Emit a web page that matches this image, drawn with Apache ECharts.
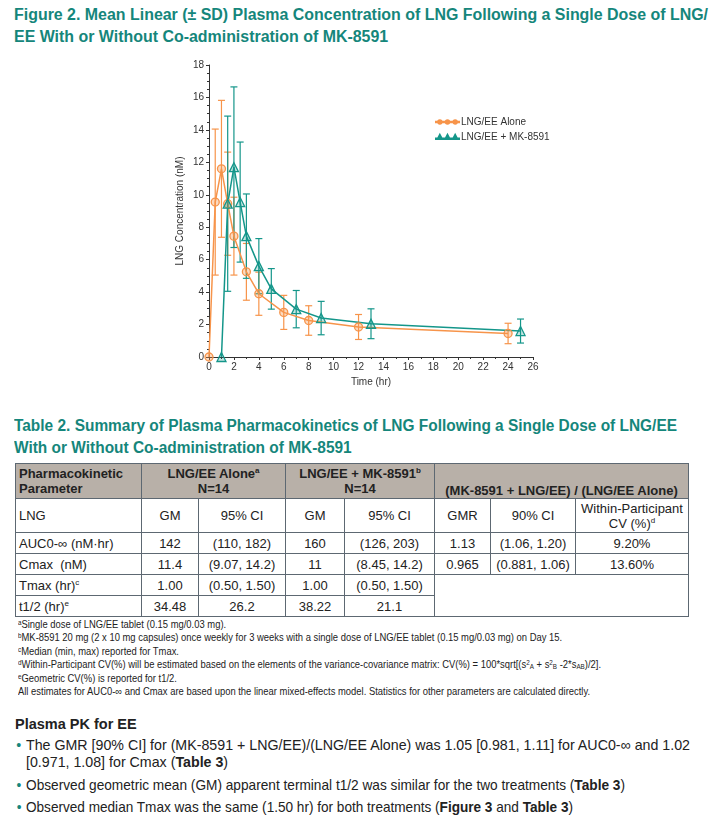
<!DOCTYPE html>
<html>
<head>
<meta charset="utf-8">
<script src="https://cdn.jsdelivr.net/npm/echarts@6/dist/echarts.min.js"></script>
<style>
  html, body { margin: 0; padding: 0; background: #fff; }
  body { width: 718px; height: 838px; position: relative; overflow: hidden;
         font-family: 'Liberation Sans', Arial, sans-serif; color: #222; }
  .ttl { position: absolute; left: 14px; color: #15867b; font-weight: bold; font-size: 16px;
         line-height: 22px; white-space: nowrap; }
  #chart { position: absolute; left: 0; top: 55px; width: 718px; height: 340px; }
  table { position: absolute; left: 15px; top: 463px; border-collapse: collapse; table-layout: fixed;
          font-size: 13px; }
  td { border: 1.5px solid #5d6872; padding: 0 3px; text-align: center; white-space: nowrap; line-height: 15px; }
  tr.hd td { background: #b8b0a8; font-weight: bold; }
  td.l { text-align: left; }
  sup { font-size: 8px; vertical-align: 5px; line-height: 0; }
  .fn { position: absolute; left: 18px; top: 618px; font-size: 10.5px; color: #222; white-space: nowrap; }
  .fn div { height: 13.4px; line-height: 13.4px; }
  .fn sup, .fn sub { font-size: 7px; line-height: 0; }
  .fn sup { vertical-align: 3px; }
  .fn sub { vertical-align: -1px; }
  .sec { position: absolute; left: 15px; top: 716px; font-weight: bold; font-size: 14.5px; }
  .bl { position: absolute; left: 26px; font-size: 14.5px; line-height: 17px; white-space: nowrap; }
  .bl::before { content: '\2022'; color: #15867b; position: absolute; left: -10px; }
</style>
</head>
<body>
<div class="ttl" id="t1" style="top:4px">Figure 2. Mean Linear (± SD) Plasma Concentration of LNG Following a Single Dose of LNG/<br>EE With or Without Co-administration of MK-8591</div>
<div id="chart"></div>
<div class="ttl" id="t2" style="top:415px">Table 2. Summary of Plasma Pharmacokinetics of LNG Following a Single Dose of LNG/EE<br>With or Without Co-administration of MK-8591</div>
<table>
  <colgroup>
    <col style="width:126px"><col style="width:57px"><col style="width:87px"><col style="width:59px">
    <col style="width:90px"><col style="width:56px"><col style="width:85px"><col style="width:113px">
  </colgroup>
  <tr class="hd" style="height:35px">
    <td class="l">Pharmacokinetic<br>Parameter</td>
    <td colspan="2">LNG/EE Alone<sup>a</sup><br>N=14</td>
    <td colspan="2">LNG/EE + MK-8591<sup>b</sup><br>N=14</td>
    <td colspan="3" style="vertical-align:bottom">(MK-8591 + LNG/EE) / (LNG/EE Alone)</td>
  </tr>
  <tr style="height:34px">
    <td class="l">LNG</td><td>GM</td><td>95% CI</td><td>GM</td><td>95% CI</td><td>GMR</td><td>90% CI</td>
    <td>Within-Participant<br>CV (%)<sup>d</sup></td>
  </tr>
  <tr style="height:21px">
    <td class="l">AUC0-∞ (nM·hr)</td><td>142</td><td>(110, 182)</td><td>160</td><td>(126, 203)</td><td>1.13</td><td>(1.06, 1.20)</td><td>9.20%</td>
  </tr>
  <tr style="height:21px">
    <td class="l">Cmax&nbsp; (nM)</td><td>11.4</td><td>(9.07, 14.2)</td><td>11</td><td>(8.45, 14.2)</td><td>0.965</td><td>(0.881, 1.06)</td><td>13.60%</td>
  </tr>
  <tr style="height:21px">
    <td class="l">Tmax (hr)<sup>c</sup></td><td>1.00</td><td>(0.50, 1.50)</td><td>1.00</td><td>(0.50, 1.50)</td>
    <td colspan="3" rowspan="2"></td>
  </tr>
  <tr style="height:21px">
    <td class="l">t1/2 (hr)<sup>e</sup></td><td>34.48</td><td>26.2</td><td>38.22</td><td>21.1</td>
  </tr>
</table>
<div class="fn" id="fn">
  <div><sup>a</sup>Single dose of LNG/EE tablet (0.15 mg/0.03 mg).</div>
  <div><sup>b</sup>MK-8591 20 mg (2 x 10 mg capsules) once weekly for 3 weeks with a single dose of LNG/EE tablet (0.15 mg/0.03 mg) on Day 15.</div>
  <div><sup>c</sup>Median (min, max) reported for Tmax.</div>
  <div><sup>d</sup>Within-Participant CV(%) will be estimated based on the elements of the variance-covariance matrix: CV(%) = 100*sqrt[(s<sup>2</sup><sub>A</sub> + s<sup>2</sup><sub>B</sub> -2*s<sub>AB</sub>)/2].</div>
  <div><sup>e</sup>Geometric CV(%) is reported for t1/2.</div>
  <div>All estimates for AUC0-∞ and Cmax are based upon the linear mixed-effects model. Statistics for other parameters are calculated directly.</div>
</div>
<div class="sec">Plasma PK for EE</div>
<div class="bl" id="b1" style="top:737px">The GMR [90% CI] for (MK-8591 + LNG/EE)/(LNG/EE Alone) was 1.05 [0.981, 1.11] for AUC0-∞ and 1.02<br>[0.971, 1.08] for Cmax (<b>Table 3</b>)</div>
<div class="bl" id="b2" style="top:777px">Observed geometric mean (GM) apparent terminal t1/2 was similar for the two treatments (<b>Table 3</b>)</div>
<div class="bl" id="b3" style="top:799px">Observed median Tmax was the same (1.50 hr) for both treatments (<b>Figure 3</b> and <b>Table 3</b>)</div>

<script>
// 平均血药浓度 (nM) ± SD，读自原图
const timeAlone = [0, 0.5, 1, 1.5, 2, 3, 4, 6, 8, 12, 24];
const meanAlone = [0, 9.55, 11.6, 9.45, 7.45, 5.25, 3.9, 2.75, 2.25, 1.85, 1.45];
const sdAlone   = [0, 4.5, 4.22, 3.18, 2.4, 1.75, 1.33, 1.05, 0.91, 0.77, 0.63];

const timeCombo = [1, 1.5, 2, 2.5, 3, 4, 5, 7, 9, 13, 25];
const meanCombo = [0, 9.45, 11.7, 9.55, 7.45, 5.6, 4.2, 2.95, 2.4, 2.05, 1.6];
const sdCombo   = [0, 5.4, 4.95, 3.7, 2.6, 1.7, 1.25, 1.15, 1.03, 0.92, 0.74];

const NAMES = ['LNG/EE Alone', 'LNG/EE + MK-8591'];
const ORANGE = '#f7944a';
const TEAL = '#14968a';

// 窄体字体不可用，横向压缩文字块到原图宽度
function fitWidth(id, w) {
  const el = document.getElementById(id);
  el.style.transformOrigin = '0 0';
  const s = w / el.getBoundingClientRect().width;
  el.style.transform = 'scaleX(' + s + ')';
}
fitWidth('t1', 694);
fitWidth('t2', 663);
fitWidth('fn', 583);
fitWidth('b1', 664);
fitWidth('b2', 599);
fitWidth('b3', 547);

function pts(ts, ms) { return ts.map((t, i) => [t, ms[i]]); }
function bars(ts, ms, sds) {
  return ts.map((t, i) => [t, ms[i] - sds[i], ms[i] + sds[i]]).filter((d, i) => sds[i] > 0);
}

// 误差线：竖线 + 上下短横
function errRender(color) {
  return function (params, api) {
    const x = api.value(0);
    const lo = api.coord([x, api.value(1)]);
    const hi = api.coord([x, api.value(2)]);
    const w = 3.5;
    const st = { stroke: color, lineWidth: 1.2 };
    return {
      type: 'group',
      children: [
        { type: 'line', shape: { x1: hi[0], y1: hi[1], x2: lo[0], y2: lo[1] }, style: st },
        { type: 'line', shape: { x1: hi[0] - w, y1: hi[1], x2: hi[0] + w, y2: hi[1] }, style: st },
        { type: 'line', shape: { x1: lo[0] - w, y1: lo[1], x2: lo[0] + w, y2: lo[1] }, style: st },
      ],
    };
  };
}

const iconCircle = 'path://M0,4.6L30,4.6L30,5.4L0,5.4Z' +
  'M2.7,5a2.3,2.3 0 1,0 4.6,0a2.3,2.3 0 1,0 -4.6,0Z' +
  'M12.7,5a2.3,2.3 0 1,0 4.6,0a2.3,2.3 0 1,0 -4.6,0Z' +
  'M22.7,5a2.3,2.3 0 1,0 4.6,0a2.3,2.3 0 1,0 -4.6,0Z';
const iconTri = 'path://M0,7.1L30,7.1L30,7.9L0,7.9Z' +
  'M5,2.5L7.6,7.5L2.4,7.5Z' +
  'M15,2.5L17.6,7.5L12.4,7.5Z' +
  'M25,2.5L27.6,7.5L22.4,7.5Z';

const chart = echarts.init(document.getElementById('chart'));
chart.setOption({
  animation: false,
  textStyle: { fontFamily: "'Liberation Sans', Arial, sans-serif", color: '#333' },
  grid: { left: 209, top: 10, width: 324, height: 292 },
  legend: {
    left: 430, top: 57, orient: 'vertical', itemGap: 5, itemWidth: 23, itemHeight: 8,
    textStyle: { fontSize: 10, color: '#333', padding: [0, 0, 0, -3] },
    data: [
      { name: NAMES[0], icon: iconCircle, itemStyle: { color: ORANGE } },
      { name: NAMES[1], icon: iconTri, itemStyle: { color: TEAL } },
    ],
  },
  xAxis: {
    type: 'value', min: 0, max: 26, interval: 2,
    name: 'Time (hr)', nameLocation: 'middle', nameGap: 20,
    nameTextStyle: { fontSize: 10, color: '#333' },
    axisLine: { onZero: false, lineStyle: { color: '#333', width: 1 } },
    axisTick: { length: 3, lineStyle: { color: '#333' } },
    minorTick: { show: true, splitNumber: 2, length: 2, lineStyle: { color: '#333' } },
    axisLabel: { fontSize: 10, color: '#333', margin: 5 },
    splitLine: { show: false },
  },
  yAxis: {
    type: 'value', min: 0, max: 18, interval: 2,
    name: 'LNG Concentration (nM)', nameLocation: 'middle', nameGap: 24,
    nameTextStyle: { fontSize: 10, color: '#333' },
    axisLine: { show: true, lineStyle: { color: '#333', width: 1 } },
    axisTick: { show: true, length: 3, lineStyle: { color: '#333' } },
    minorTick: { show: true, splitNumber: 4, length: 2, lineStyle: { color: '#333' } },
    axisLabel: { fontSize: 10, color: '#333', margin: 5 },
    splitLine: { show: false },
  },
  series: [
    {
      name: NAMES[0], type: 'line', data: pts(timeAlone, meanAlone), z: 3,
      symbol: 'circle', symbolSize: 8,
      lineStyle: { color: ORANGE, width: 1.5 },
      itemStyle: { color: 'rgba(247,148,74,0.35)', borderColor: ORANGE, borderWidth: 1.3 },
    },
    {
      name: NAMES[1], type: 'line', data: pts(timeCombo, meanCombo), z: 3,
      symbol: 'triangle', symbolSize: 9,
      lineStyle: { color: TEAL, width: 1.5 },
      itemStyle: { color: 'rgba(20,150,138,0.25)', borderColor: TEAL, borderWidth: 1.3 },
    },
    {
      type: 'custom', name: 'errAlone', data: bars(timeAlone, meanAlone, sdAlone), z: 2,
      renderItem: errRender(ORANGE), encode: { x: 0, y: [1, 2] }, silent: true,
    },
    {
      type: 'custom', name: 'errCombo', data: bars(timeCombo, meanCombo, sdCombo), z: 2,
      renderItem: errRender(TEAL), encode: { x: 0, y: [1, 2] }, silent: true,
    },
  ],
});
</script>
</body>
</html>
